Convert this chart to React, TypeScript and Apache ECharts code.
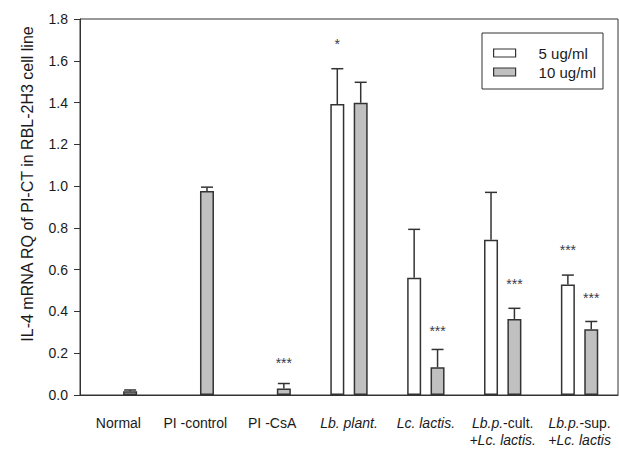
import React, { useEffect, useRef } from "react";
import * as echarts from "echarts";

const categories = [
  "Normal",
  "PI -control",
  "PI -CsA",
  "{i|Lb. plant.}",
  "{i|Lc. lactis.}",
  "{i|Lb.p.}-cult.\n{i|+Lc. lactis.}",
  "{i|Lb.p.}-sup.\n{i|+Lc. lactis}",
];
const seriesNames = ["5 ug/ml", "10 ug/ml"];
const white5: (number | string)[] = ["-", "-", "-", 1.393, 0.561, 0.743, 0.529];
const white5Err: (number | null)[] = [null, null, null, 0.169, 0.232, 0.227, 0.045];
const gray10: number[] = [0.018, 0.976, 0.031, 1.399, 0.133, 0.364, 0.315];
const gray10Err: number[] = [0.006, 0.019, 0.024, 0.098, 0.085, 0.051, 0.037];
// [category index, series index (0 = 5 ug/ml, 1 = 10 ug/ml), y value, text]
const marks: [number, number, number, string][] = [
  [2, 1, 0.166, "***"],
  [3, 0, 1.695, "*"],
  [4, 1, 0.32, "***"],
  [5, 1, 0.545, "***"],
  [6, 0, 0.709, "***"],
  [6, 1, 0.481, "***"],
];
const yTicks = { min: 0, max: 1.8, interval: 0.2 };
const yName = "IL-4 mRNA RQ of PI-CT in RBL-2H3 cell line";

const FONT = "'Liberation Sans', Arial, sans-serif";
const TXT = "#1a1a1a";
const LINE = "#333333";
const OFFSET = 11.7;

export default function App() {
  const ref = useRef<HTMLDivElement>(null);
  useEffect(() => {
    document.body.style.margin = "0";
    const chart = echarts.init(ref.current!, null, { renderer: "svg" });

    const errData = (vals: any[], errs: any[]) =>
      vals
        .map((v, i) => (typeof v === "number" && errs[i] != null ? [i, v, errs[i]] : null))
        .filter((d) => d !== null);

    const errRender = (dx: number) => (params: any, api: any) => {
      const i = api.value(0);
      const v = api.value(1);
      const e = api.value(2);
      const p0 = api.coord([i, v]);
      const p1 = api.coord([i, v + e]);
      const x = p0[0] + dx;
      return {
        type: "group",
        children: [
          { type: "line", shape: { x1: x, y1: p0[1], x2: x, y2: p1[1] }, style: { stroke: LINE, lineWidth: 1.5 } },
          { type: "line", shape: { x1: x - 6, y1: p1[1], x2: x + 6, y2: p1[1] }, style: { stroke: LINE, lineWidth: 1.5 } },
        ],
      };
    };

    const option: any = {
      animation: false,
      grid: { left: 80, right: 1, top: 19, bottom: 57, show: true, borderColor: LINE, borderWidth: 1 },
      legend: {
        left: 482,
        top: 33,
        orient: "vertical",
        padding: [12, 8, 9, 11],
        itemWidth: 22,
        itemHeight: 8,
        itemGap: 3,
        textStyle: { fontFamily: FONT, fontSize: 15, color: TXT, lineHeight: 16, padding: [0, 0, 0, 18] },
        data: [
          { name: seriesNames[0], icon: "rect", itemStyle: { color: "#ffffff", borderColor: LINE, borderWidth: 1.2 } },
          { name: seriesNames[1], icon: "rect", itemStyle: { color: "#c0c0c0", borderColor: LINE, borderWidth: 1.2 } },
        ],
      },
      graphic: [
        {
          type: "rect",
          shape: { x: 482, y: 33, width: 121, height: 56 },
          style: { fill: "none", stroke: LINE, lineWidth: 1 },
        },
        {
          type: "text",
          x: 27,
          y: 184,
          rotation: Math.PI / 2,
          style: {
            text: yName,
            fontFamily: FONT,
            fontSize: 16,
            fill: TXT,
            align: "center",
            verticalAlign: "middle",
          },
        },
      ],
      xAxis: {
        type: "category",
        data: categories,
        axisLine: { lineStyle: { color: LINE, width: 1 } },
        axisTick: { length: 6, lineStyle: { color: LINE } },
        axisLabel: {
          interval: 0,
          margin: 19,
          fontFamily: FONT,
          fontSize: 14,
          lineHeight: 17,
          color: TXT,
          rich: {
            i: { fontStyle: "italic", fontFamily: FONT, fontSize: 14, lineHeight: 17, color: TXT },
          },
        },
      },
      yAxis: {
        type: "value",
        min: yTicks.min,
        max: yTicks.max,
        interval: yTicks.interval,
        splitLine: { show: false },
        axisLine: { show: true, lineStyle: { color: LINE, width: 1 } },
        axisTick: { show: true, length: 6, lineStyle: { color: LINE } },
        axisLabel: {
          margin: 12,
          fontFamily: FONT,
          fontSize: 14,
          color: TXT,
          formatter: (v: number) => v.toFixed(1),
        },
      },
      series: [
        {
          name: seriesNames[0],
          type: "bar",
          data: white5,
          barWidth: 14,
          barGap: "67%",
          itemStyle: { color: "#ffffff", borderColor: LINE, borderWidth: 1.5 },
        },
        {
          name: seriesNames[1],
          type: "bar",
          data: gray10,
          barWidth: 14,
          barGap: "67%",
          itemStyle: { color: "#c0c0c0", borderColor: LINE, borderWidth: 1.5 },
        },
        {
          type: "custom",
          renderItem: errRender(-OFFSET),
          data: errData(white5, white5Err),
          z: 5,
          silent: true,
        },
        {
          type: "custom",
          renderItem: errRender(OFFSET),
          data: errData(gray10, gray10Err),
          z: 5,
          silent: true,
        },
        {
          type: "custom",
          data: marks.map((m) => [m[0], m[2], m[1], m[3]]),
          z: 6,
          silent: true,
          renderItem: (params: any, api: any) => {
            const m = marks[params.dataIndex];
            const p = api.coord([m[0], m[2]]);
            const dx = m[1] === 0 ? -OFFSET : OFFSET;
            return {
              type: "text",
              x: p[0] + dx,
              y: p[1] + 3,
              style: {
                text: m[3],
                fontFamily: FONT,
                fontSize: 14,
                fill: "#3a3a4a",
                align: "center",
                verticalAlign: "middle",
              },
            };
          },
        },
      ],
    };
    chart.setOption(option);
    return () => chart.dispose();
  }, []);
  return (
    <div
      ref={ref}
      style={{ width: 619, height: 452, position: "absolute", left: 0, top: 0, background: "#ffffff" }}
    />
  );
}
